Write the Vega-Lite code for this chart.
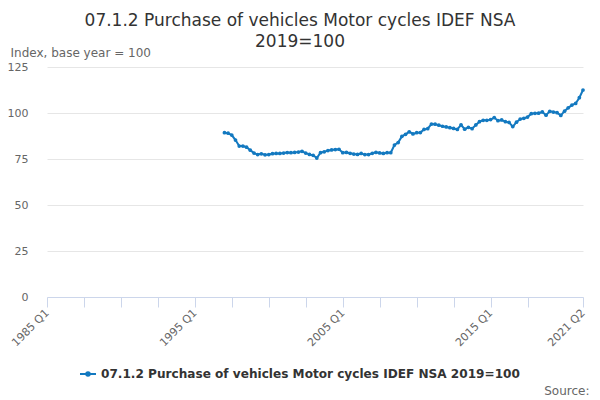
{
  "$schema": "https://vega.github.io/schema/vega-lite/v6.json",
  "width": 536,
  "height": 230,
  "autosize": {"type": "none"},
  "padding": {"left": 47, "top": 67, "right": 17, "bottom": 103},
  "background": "#ffffff",
  "config": {
    "font": "DejaVu Sans",
    "view": {"stroke": null}
  },
  "title": {
    "text": ["07.1.2 Purchase of vehicles Motor cycles IDEF NSA", "2019=100"],
    "fontSize": 17,
    "fontWeight": "normal",
    "color": "#333333",
    "anchor": "middle",
    "dx": -15,
    "offset": -5,
    "lineHeight": 21
  },
  "data": {
    "values": [
      {"date": "1997-01-01", "value": 89.3},
      {"date": "1997-04-01", "value": 89.0},
      {"date": "1997-07-01", "value": 88.0},
      {"date": "1997-10-01", "value": 85.3},
      {"date": "1998-01-01", "value": 82.0},
      {"date": "1998-04-01", "value": 82.0},
      {"date": "1998-07-01", "value": 81.4},
      {"date": "1998-10-01", "value": 79.8},
      {"date": "1999-01-01", "value": 78.2},
      {"date": "1999-04-01", "value": 77.4},
      {"date": "1999-07-01", "value": 77.8},
      {"date": "1999-10-01", "value": 77.3},
      {"date": "2000-01-01", "value": 77.4},
      {"date": "2000-04-01", "value": 77.9},
      {"date": "2000-07-01", "value": 78.0},
      {"date": "2000-10-01", "value": 78.0},
      {"date": "2001-01-01", "value": 78.2},
      {"date": "2001-04-01", "value": 78.5},
      {"date": "2001-07-01", "value": 78.4},
      {"date": "2001-10-01", "value": 78.6},
      {"date": "2002-01-01", "value": 78.8},
      {"date": "2002-04-01", "value": 79.2},
      {"date": "2002-07-01", "value": 78.2},
      {"date": "2002-10-01", "value": 77.5},
      {"date": "2003-01-01", "value": 77.0},
      {"date": "2003-04-01", "value": 75.5},
      {"date": "2003-07-01", "value": 78.4},
      {"date": "2003-10-01", "value": 78.9},
      {"date": "2004-01-01", "value": 79.6},
      {"date": "2004-04-01", "value": 79.9},
      {"date": "2004-07-01", "value": 80.1},
      {"date": "2004-10-01", "value": 80.3},
      {"date": "2005-01-01", "value": 78.4},
      {"date": "2005-04-01", "value": 78.6},
      {"date": "2005-07-01", "value": 78.1},
      {"date": "2005-10-01", "value": 77.7},
      {"date": "2006-01-01", "value": 77.5},
      {"date": "2006-04-01", "value": 78.0},
      {"date": "2006-07-01", "value": 77.4},
      {"date": "2006-10-01", "value": 77.4},
      {"date": "2007-01-01", "value": 78.1},
      {"date": "2007-04-01", "value": 78.6},
      {"date": "2007-07-01", "value": 78.3},
      {"date": "2007-10-01", "value": 78.0},
      {"date": "2008-01-01", "value": 78.4},
      {"date": "2008-04-01", "value": 78.4},
      {"date": "2008-07-01", "value": 82.6},
      {"date": "2008-10-01", "value": 83.9},
      {"date": "2009-01-01", "value": 87.3},
      {"date": "2009-04-01", "value": 88.4},
      {"date": "2009-07-01", "value": 89.8},
      {"date": "2009-10-01", "value": 88.6},
      {"date": "2010-01-01", "value": 89.3},
      {"date": "2010-04-01", "value": 89.4},
      {"date": "2010-07-01", "value": 91.1},
      {"date": "2010-10-01", "value": 91.5},
      {"date": "2011-01-01", "value": 94.0},
      {"date": "2011-04-01", "value": 93.9},
      {"date": "2011-07-01", "value": 93.4},
      {"date": "2011-10-01", "value": 92.8},
      {"date": "2012-01-01", "value": 92.4},
      {"date": "2012-04-01", "value": 92.0},
      {"date": "2012-07-01", "value": 91.6},
      {"date": "2012-10-01", "value": 91.1},
      {"date": "2013-01-01", "value": 93.6},
      {"date": "2013-04-01", "value": 91.2},
      {"date": "2013-07-01", "value": 92.2},
      {"date": "2013-10-01", "value": 91.5},
      {"date": "2014-01-01", "value": 93.5},
      {"date": "2014-04-01", "value": 95.3},
      {"date": "2014-07-01", "value": 96.0},
      {"date": "2014-10-01", "value": 96.0},
      {"date": "2015-01-01", "value": 96.4},
      {"date": "2015-04-01", "value": 97.5},
      {"date": "2015-07-01", "value": 95.8},
      {"date": "2015-10-01", "value": 96.2},
      {"date": "2016-01-01", "value": 95.3},
      {"date": "2016-04-01", "value": 94.9},
      {"date": "2016-07-01", "value": 92.6},
      {"date": "2016-10-01", "value": 95.0},
      {"date": "2017-01-01", "value": 96.7},
      {"date": "2017-04-01", "value": 97.1},
      {"date": "2017-07-01", "value": 97.8},
      {"date": "2017-10-01", "value": 99.6},
      {"date": "2018-01-01", "value": 99.8},
      {"date": "2018-04-01", "value": 99.9},
      {"date": "2018-07-01", "value": 100.6},
      {"date": "2018-10-01", "value": 98.8},
      {"date": "2019-01-01", "value": 100.9},
      {"date": "2019-04-01", "value": 100.5},
      {"date": "2019-07-01", "value": 100.2},
      {"date": "2019-10-01", "value": 98.7},
      {"date": "2020-01-01", "value": 101.0},
      {"date": "2020-04-01", "value": 102.8},
      {"date": "2020-07-01", "value": 104.3},
      {"date": "2020-10-01", "value": 105.2},
      {"date": "2021-01-01", "value": 108.3},
      {"date": "2021-04-01", "value": 112.5}
    ]
  },
  "mark": {
    "type": "line",
    "strokeWidth": 2,
    "point": {"filled": true, "size": 14}
  },
  "encoding": {
    "x": {
      "field": "date",
      "type": "temporal",
      "scale": {
        "type": "utc",
        "domain": [
          {"year": 1985, "month": 1, "date": 1, "utc": true},
          {"year": 2021, "month": 4, "date": 1, "utc": true}
        ]
      },
      "axis": {
        "values": [
          {"year": 1985, "month": 1, "date": 1, "utc": true},
          {"year": 1987, "month": 7, "date": 1, "utc": true},
          {"year": 1990, "month": 1, "date": 1, "utc": true},
          {"year": 1992, "month": 7, "date": 1, "utc": true},
          {"year": 1995, "month": 1, "date": 1, "utc": true},
          {"year": 1997, "month": 7, "date": 1, "utc": true},
          {"year": 2000, "month": 1, "date": 1, "utc": true},
          {"year": 2002, "month": 7, "date": 1, "utc": true},
          {"year": 2005, "month": 1, "date": 1, "utc": true},
          {"year": 2007, "month": 7, "date": 1, "utc": true},
          {"year": 2010, "month": 1, "date": 1, "utc": true},
          {"year": 2012, "month": 7, "date": 1, "utc": true},
          {"year": 2015, "month": 1, "date": 1, "utc": true},
          {"year": 2017, "month": 7, "date": 1, "utc": true},
          {"year": 2021, "month": 4, "date": 1, "utc": true}
        ],
        "labelExpr": "(utcyear(datum.value) % 10 == 5 && utcmonth(datum.value) == 0) || utcyear(datum.value) == 2021 ? utcyear(datum.value) + ' Q' + (floor(utcmonth(datum.value) / 3) + 1) : ''",
        "labelAngle": -45,
        "labelAlign": "right",
        "labelBaseline": "middle",
        "labelOverlap": false,
        "labelFlush": false,
        "labelColor": "#666666",
        "labelFontSize": 11,
        "labelPadding": 4,
        "grid": false,
        "domainColor": "#ccd6eb",
        "tickColor": "#ccd6eb",
        "tickSize": 10,
        "title": "Source:",
        "titleX": 542,
        "titleY": 97,
        "titleAlign": "right",
        "titleBaseline": "alphabetic",
        "titleFontSize": 12,
        "titleFontWeight": "normal",
        "titleColor": "#666666"
      }
    },
    "y": {
      "field": "value",
      "type": "quantitative",
      "scale": {"domain": [0, 125], "nice": false},
      "axis": {
        "values": [0, 25, 50, 75, 100, 125],
        "domain": false,
        "ticks": false,
        "gridColor": "#e6e6e6",
        "labelColor": "#666666",
        "labelFontSize": 11,
        "labelPadding": 19,
        "title": "Index, base year = 100",
        "titleAngle": 0,
        "titleAlign": "left",
        "titleBaseline": "alphabetic",
        "titleX": -37,
        "titleY": -11,
        "titleFontSize": 12,
        "titleFontWeight": "normal",
        "titleColor": "#666666"
      }
    },
    "color": {
      "datum": "07.1.2 Purchase of vehicles Motor cycles IDEF NSA 2019=100",
      "type": "nominal",
      "scale": {"range": ["#1379c0"]},
      "legend": {
        "title": null,
        "orient": "none",
        "legendX": 32,
        "legendY": 298,
        "labelFontSize": 12.1,
        "labelFontWeight": "bold",
        "labelColor": "#333333",
        "labelLimit": 0,
        "symbolType": "M-1,0L1,0M-0.22,0A0.22,0.22,0,1,1,0.22,0A0.22,0.22,0,1,1,-0.22,0Z",
        "symbolSize": 256,
        "symbolStrokeWidth": 2,
        "symbolFillColor": "#1379c0"
      }
    }
  }
}
